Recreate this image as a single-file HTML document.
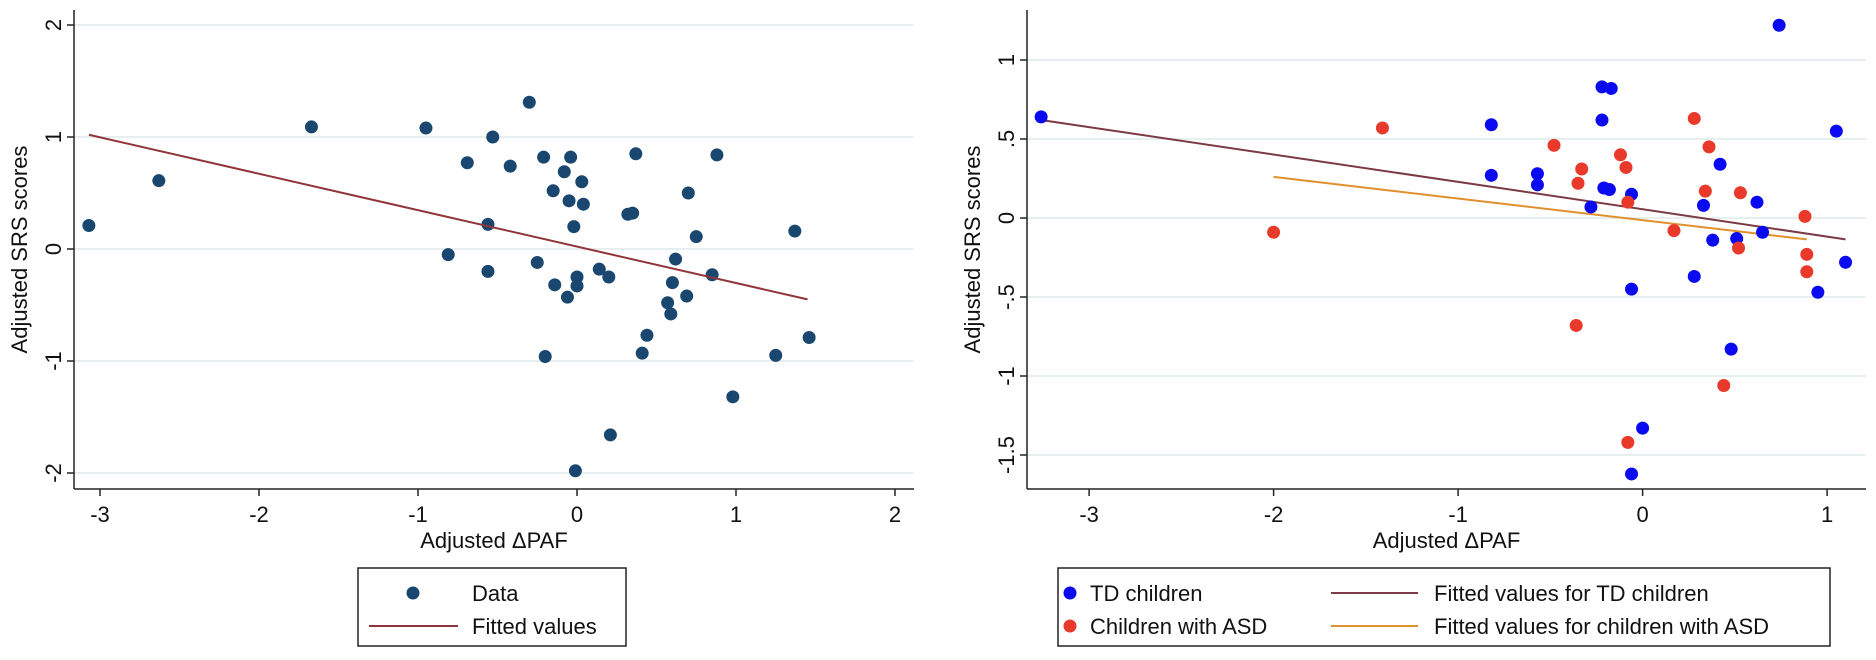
<!DOCTYPE html>
<html><head><meta charset="utf-8"><style>
body{margin:0;background:#fff;}
svg{display:block;font-family:"Liberation Sans",Arial,sans-serif;}
</style></head><body>
<svg id="svg" width="1876" height="660" viewBox="0 0 1876 660">
<g id="left"></g>
<g id="right"></g>
</svg>
<script>
// Left chart data
const leftX=[-3.07,-2.63,-1.67,-0.95,-0.53,-0.69,-0.42,-0.30,-0.21,-0.04,-0.08,-0.15,0.03,-0.05,0.04,-0.02,-0.56,-0.81,-0.56,-0.25,-0.14,-0.06,0.0,0.0,0.14,0.20,0.32,0.35,0.37,0.62,0.60,0.57,0.59,0.70,0.69,0.75,0.85,0.88,0.44,0.41,-0.20,0.98,1.25,1.37,1.46,0.21,-0.01];
const leftY=[0.21,0.61,1.09,1.08,1.00,0.77,0.74,1.31,0.82,0.82,0.69,0.52,0.60,0.43,0.40,0.20,0.22,-0.05,-0.20,-0.12,-0.32,-0.43,-0.25,-0.33,-0.18,-0.25,0.31,0.32,0.85,-0.09,-0.30,-0.48,-0.58,0.50,-0.42,0.11,-0.23,0.84,-0.77,-0.93,-0.96,-1.32,-0.95,0.16,-0.79,-1.66,-1.98];
const leftFitX=[-3.07,1.45];
const leftFitY=[1.02,-0.45];
const leftXTicks=[-3,-2,-1,0,1,2];
const leftYTicks=[-2,-1,0,1,2];
// Right chart data
const tdX=[-3.26,-0.82,-0.82,-0.57,-0.57,-0.22,-0.17,-0.22,-0.21,-0.18,-0.28,-0.06,-0.06,0.0,0.33,0.42,0.38,0.51,0.62,0.65,0.28,0.48,0.74,1.05,0.95,1.10,-0.06];
const tdY=[0.64,0.59,0.27,0.28,0.21,0.83,0.82,0.62,0.19,0.18,0.07,0.15,-0.45,-1.33,0.08,0.34,-0.14,-0.13,0.10,-0.09,-0.37,-0.83,1.22,0.55,-0.47,-0.28,-1.62];
const asdX=[-2.0,-1.41,-0.48,-0.33,-0.35,-0.12,-0.09,-0.08,-0.36,0.17,0.28,0.36,0.34,0.53,0.52,0.44,0.88,0.89,0.89,-0.08];
const asdY=[-0.09,0.57,0.46,0.31,0.22,0.40,0.32,0.10,-0.68,-0.08,0.63,0.45,0.17,0.16,-0.19,-1.06,0.01,-0.23,-0.34,-1.42];
const tdFitX=[-3.26,1.10];
const tdFitY=[0.62,-0.135];
const asdFitX=[-2.0,0.89];
const asdFitY=[0.26,-0.135];
const rightXTicks=[-3,-2,-1,0,1];
const rightYTicks=[-1.5,-1,-0.5,0,0.5,1];
const rightYLabels=["-1.5","-1","-.5","0",".5","1"];

const NS="http://www.w3.org/2000/svg";
function mk(parent,tag,attrs,text){const e=document.createElementNS(NS,tag);for(const k in attrs)e.setAttribute(k,attrs[k]);if(text!==undefined)e.textContent=text;parent.appendChild(e);return e;}

function chart(g,o){
  const sx=v=>o.x0+(v-o.xmin)*o.xs;
  const sy=v=>o.y0-v*o.ys;
  o.yTicks.forEach((t,i)=>{
    const l=mk(g,'line',{x1:o.left,x2:o.right,y1:sy(t),y2:sy(t),stroke:'#e6eff0','stroke-width':2});
    
    
  });
  const ya=mk(g,'line',{x1:o.left,x2:o.left,y1:o.top,y2:o.bottom,stroke:'#222','stroke-width':1.5});
  
  
  const xa=mk(g,'line',{x1:o.left,x2:o.right,y1:o.bottom,y2:o.bottom,stroke:'#222','stroke-width':1.5});
  
  
  o.xTicks.forEach(t=>{
    const x=sx(t);
    const tk=mk(g,'line',{x1:x,x2:x,y1:o.bottom,y2:o.bottom+7,stroke:'#222','stroke-width':1.5});
    
    
    const tx=mk(g,'text',{x:x,y:o.bottom+33,'text-anchor':'middle','font-size':22,fill:'#111'},String(t));
    
    
  });
  o.yTicks.forEach((t,i)=>{
    const y=sy(t);
    const tk=mk(g,'line',{x1:o.left-7,x2:o.left,y1:y,y2:y,stroke:'#222','stroke-width':1.5});
    
    
    const tx=mk(g,'text',{x:0,y:0,'text-anchor':'middle','font-size':22,fill:'#111',transform:`translate(${o.left-13},${y}) rotate(-90)`},o.yLabels[i]);
    
    
  });
  const xt=mk(g,'text',{x:(o.left+o.right)/2,y:548,'text-anchor':'middle','font-size':22,fill:'#111'},'Adjusted ΔPAF');
  
  
  const yt=mk(g,'text',{x:0,y:0,'text-anchor':'middle','font-size':22,fill:'#111',transform:`translate(${o.left-47},${(o.top+o.bottom)/2}) rotate(-90)`},'Adjusted SRS scores');
  
  
  return {sx,sy};
}

const gL=document.getElementById('left');
const L=chart(gL,{left:74,right:914,top:10,bottom:489,x0:577,xmin:0,xs:159,y0:249,ys:112,xTicks:leftXTicks,yTicks:leftYTicks,yLabels:leftYTicks.map(String)});
leftX.forEach((v,i)=>{
  const c=mk(gL,'circle',{cx:L.sx(v),cy:L.sy(leftY[i]),r:6.5,fill:'#1a476f'});
  
  
});
const lf=mk(gL,'line',{x1:L.sx(leftFitX[0]),y1:L.sy(leftFitY[0]),x2:L.sx(leftFitX[1]),y2:L.sy(leftFitY[1]),stroke:'#90353b','stroke-width':2});


const lg=mk(gL,'g',{});


mk(lg,'rect',{x:358,y:568,width:268,height:78,fill:'#fff',stroke:'#222','stroke-width':1.5});
const ld=mk(lg,'circle',{cx:413,cy:593,r:6.5,fill:'#1a476f'});


const lt1=mk(lg,'text',{x:472,y:601,'font-size':22,fill:'#111'},'Data');


mk(lg,'line',{x1:369,x2:458,y1:626,y2:626,stroke:'#90353b','stroke-width':2});
const lt2=mk(lg,'text',{x:472,y:634,'font-size':22,fill:'#111'},'Fitted values');



const gR=document.getElementById('right');
const R=chart(gR,{left:1027,right:1866,top:10,bottom:489,x0:1642.6,xmin:0,xs:184.5,y0:218,ys:158,xTicks:rightXTicks,yTicks:rightYTicks,yLabels:rightYLabels});
const f1=mk(gR,'line',{x1:R.sx(tdFitX[0]),y1:R.sy(tdFitY[0]),x2:R.sx(tdFitX[1]),y2:R.sy(tdFitY[1]),stroke:'#7b3a44','stroke-width':2});


const f2=mk(gR,'line',{x1:R.sx(asdFitX[0]),y1:R.sy(asdFitY[0]),x2:R.sx(asdFitX[1]),y2:R.sy(asdFitY[1]),stroke:'#e0902c','stroke-width':2});


tdX.forEach((v,i)=>{
  const c=mk(gR,'circle',{cx:R.sx(v),cy:R.sy(tdY[i]),r:6.5,fill:'#0a0af0'});
  
  
});
asdX.forEach((v,i)=>{
  const c=mk(gR,'circle',{cx:R.sx(v),cy:R.sy(asdY[i]),r:6.5,fill:'#e8392a'});
  
  
});
const rg=mk(gR,'g',{});


mk(rg,'rect',{x:1058,y:568,width:772,height:78,fill:'#fff',stroke:'#222','stroke-width':1.5});
mk(rg,'circle',{cx:1070,cy:593,r:6.5,fill:'#0a0af0'});
mk(rg,'circle',{cx:1070,cy:626,r:6.5,fill:'#e8392a'});
const r1=mk(rg,'text',{x:1090,y:601,'font-size':22,fill:'#111'},'TD children');


const r2=mk(rg,'text',{x:1090,y:634,'font-size':22,fill:'#111'},'Children with ASD');


mk(rg,'line',{x1:1331,x2:1418,y1:593,y2:593,stroke:'#7b3a44','stroke-width':2});
mk(rg,'line',{x1:1331,x2:1418,y1:626,y2:626,stroke:'#e0902c','stroke-width':2});
const r3=mk(rg,'text',{x:1434,y:601,'font-size':22,fill:'#111'},'Fitted values for TD children');


const r4=mk(rg,'text',{x:1434,y:634,'font-size':22,fill:'#111'},'Fitted values for children with ASD');


</script>
</body></html>
